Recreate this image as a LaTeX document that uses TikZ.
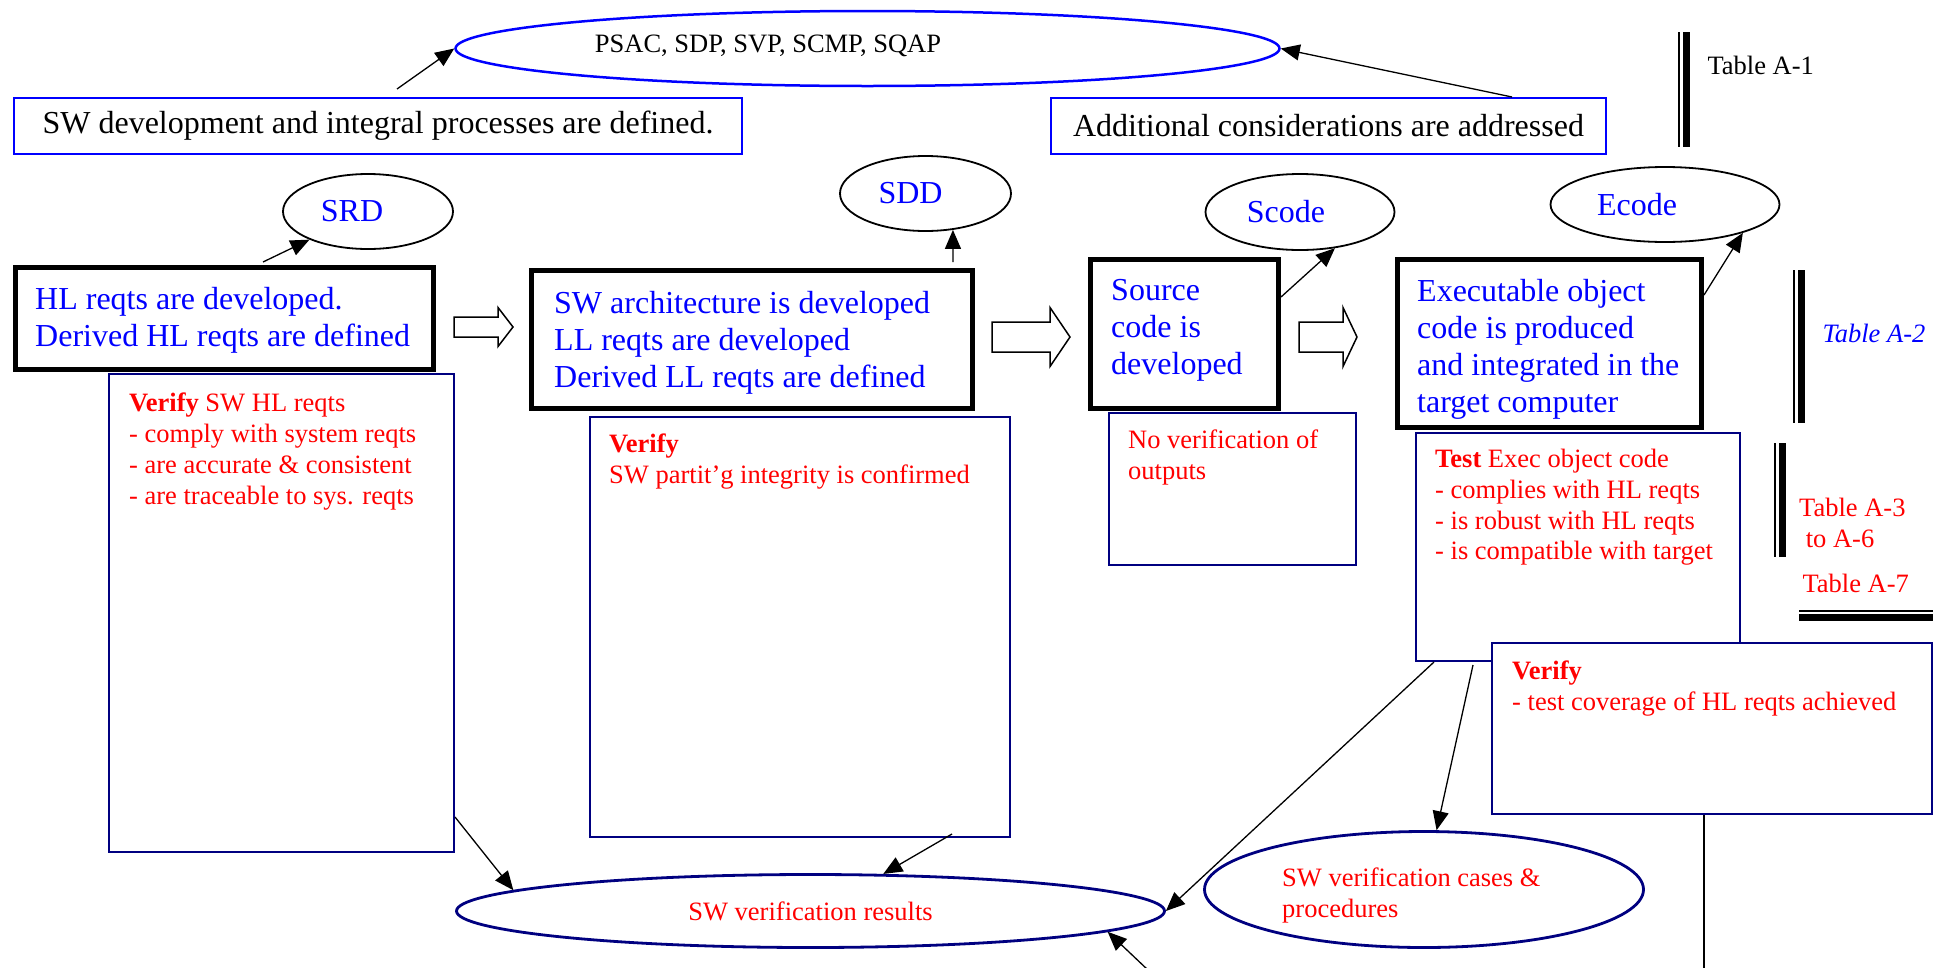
\documentclass[tikz,border=0pt]{standalone}
\usepackage{fontspec}
\setmainfont{Liberation Serif}
\usetikzlibrary{shapes.geometric,arrows.meta}
\definecolor{navy}{RGB}{0,0,128}

\begin{document}
\begin{tikzpicture}[x=1pt,y=-1pt,
    big/.style={font=\fontsize{32}{37}\selectfont},
    small/.style={font=\fontsize{26.5}{30.8}\selectfont},
    phase/.style={draw,line width=5pt,inner sep=0pt,anchor=north west},
    checkbox/.style={draw=navy,line width=2pt,fill=white,inner sep=0pt,anchor=north west},
    topbox/.style={draw=blue,line width=2pt,inner sep=0pt,anchor=north west,big},
    doc/.style={ellipse,draw,line width=1.8pt,inner sep=0pt},
    result/.style={ellipse,draw=navy,line width=2.8pt,inner sep=0pt},
    bluetxt/.style={big,text=blue,align=left,inner sep=0pt,anchor=north west},
    redtxt/.style={small,text=red,align=left,inner sep=0pt,anchor=north west},
    flow/.style={-{Triangle[length=19pt,width=16pt]},line width=1.3pt}]

    \useasboundingbox[fill=white] (0,0) rectangle (1939,967);

    % Plans
    \node[topbox,minimum width=728pt,minimum height=56pt] (devbox) at (13,97) {SW development and integral processes are defined.};
    \node[topbox,minimum width=555pt,minimum height=56pt] (addbox) at (1050,97) {Additional considerations are addressed};
    \node[ellipse,draw=blue,line width=2.5pt,inner sep=0pt,minimum width=824pt,minimum height=75pt] (psac) at (867.5,48.5) {};
    \node[small] (psactxt) at (768,46) {PSAC, SDP, SVP, SCMP, SQAP};

    % Development processes
    \node[phase,minimum width=418pt,minimum height=102pt] (hl) at (13,265) {};
    \node[bluetxt] (hltxt) at (35,287) {HL reqts are developed.\\Derived HL reqts are defined};
    \node[phase,minimum width=441pt,minimum height=138pt] (arch) at (529,268) {};
    \node[bluetxt] (archtxt) at (554,291) {SW architecture is developed\\LL reqts are developed\\Derived LL reqts are defined};
    \node[phase,minimum width=188pt,minimum height=149pt] (src) at (1088,257) {};
    \node[bluetxt] (srctxt) at (1111,279) {Source\\code is\\developed};
    \node[phase,minimum width=304pt,minimum height=168pt] (exe) at (1395,257) {};
    \node[bluetxt] (exetxt) at (1417,279) {Executable object\\code is produced\\and integrated in the\\target computer};

    % Process flow
    \foreach \a/\b/\c/\m/\s/\h in {454/498/513/327/10/19.5,992/1050/1070/337/15/29.5,1299/1343/1357/337/15/29.5}
        \draw[line width=1.5pt] (\a,\m-\s) -- (\b,\m-\s) -- (\b,\m-\h) -- (\c,\m) -- (\b,\m+\h) -- (\b,\m+\s) -- (\a,\m+\s) -- cycle;

    % Outputs
    \node[doc,minimum width=170pt,minimum height=75pt] (srd) at (368,211.5) {};
    \node[big,text=blue] (srdtxt) at ([xshift=-16pt]srd.center) {SRD};
    \node[doc,minimum width=171pt,minimum height=75pt] (sdd) at (925.5,193.5) {};
    \node[big,text=blue] (sddtxt) at ([xshift=-15pt]sdd.center) {SDD};
    \node[doc,minimum width=189pt,minimum height=76pt] (scode) at (1300,212) {};
    \node[big,text=blue] (scodetxt) at ([xshift=-14pt]scode.center) {Scode};
    \node[doc,minimum width=229pt,minimum height=75pt] (ecode) at (1665,204.5) {};
    \node[big,text=blue] (ecodetxt) at ([xshift=-28pt]ecode.center) {Ecode};

    % Verification
    \node[checkbox,minimum width=345pt,minimum height=478pt] (hlv) at (108,373) {};
    \node[redtxt] (hlvtxt) at (129,393) {\textbf{Verify} SW HL reqts\\- comply with system reqts\\- are accurate \& consistent\\- are traceable to sys. reqts};
    \node[checkbox,minimum width=420pt,minimum height=420pt] (archv) at (589,416) {};
    \node[redtxt] (archvtxt) at (609,434) {\textbf{Verify}\\SW partit’g integrity is confirmed};
    \node[checkbox,minimum width=247pt,minimum height=152pt] (srcv) at (1108,412) {};
    \node[redtxt] (srcvtxt) at (1128,430) {No verification of\\outputs};
    \node[checkbox,minimum width=324pt,minimum height=228pt] (testv) at (1415,432) {};
    \node[redtxt] (testvtxt) at (1435,449) {\textbf{Test} Exec object code\\- complies with HL reqts\\- is robust with HL reqts\\- is compatible with target};
    \node[checkbox,minimum width=440pt,minimum height=171pt] (covv) at (1491,642) {};
    \node[redtxt] (covvtxt) at (1512,661) {\textbf{Verify}\\- test coverage of HL reqts achieved};

    \node[result,small,text=red,minimum width=708pt,minimum height=73pt] (results) at (810.5,911) {SW verification results};
    \node[result,minimum width=439pt,minimum height=116pt] (cases) at (1424,889.5) {};
    \node[redtxt] (casestxt) at (1282,868) {SW verification cases \&\\procedures};

    % Tables
    \foreach \x/\ya/\yb in {1679/32/147,1794/270/423,1775/443/557}{
        \draw[line width=2pt] (\x,\ya) -- (\x,\yb);
        \draw[line width=7pt] (\x+7.5,\ya) -- (\x+7.5,\yb);
    }
    \draw[line width=2pt] (1799,611) -- (1933,611);
    \draw[line width=7pt] (1799,617.5) -- (1933,617.5);
    \node[small,anchor=west] (ta1) at (1704,65) {Table A-1};
    \node[small,anchor=west,text=blue] (ta2) at (1819,333) {\itshape Table A-2};
    \node[small,anchor=north west,align=left,text=red,inner sep=0pt] (ta3) at (1799,498) {Table A-3\\\hspace*{0.25em}to A-6};
    \node[small,anchor=west,text=red] (ta7) at (1799,583) {Table A-7};

    % Connectors
    \draw[flow] ([xshift=19pt,yshift=8pt]devbox.north) -- (psac.west);
    \draw[flow] ([xshift=-95pt]addbox.north east) -- (psac.east);
    \draw[flow] ([xshift=38.5pt,yshift=3pt]hl.north) -- (srd);
    \draw[flow] ([xshift=-22pt,yshift=6pt]arch.north east) -- (sdd.307);
    \draw[flow] ([yshift=-40pt]src.north east) -- (scode.314);
    \draw[flow] ([yshift=-38pt]exe.north east) -- (ecode.340);
    \draw[flow] ([yshift=36pt]hlv.south east) -- (results.176);
    \draw[flow] ([xshift=-59pt,yshift=4pt]archv.south east) -- (results.27);
    \draw[flow] ([xshift=19pt]testv.south west) -- (results.east);
    \draw[flow] ([xshift=58pt,yshift=-3pt]testv.south west) -- (cases.78);
    \coordinate (lowend) at (1148,970);
    \draw[flow] (lowend) -- (results.356);
    \coordinate (lowright) at (1704,970);
    \draw[line width=1.3pt] (covv.south -| lowright) -- (lowright);
\end{tikzpicture}
\end{document}
